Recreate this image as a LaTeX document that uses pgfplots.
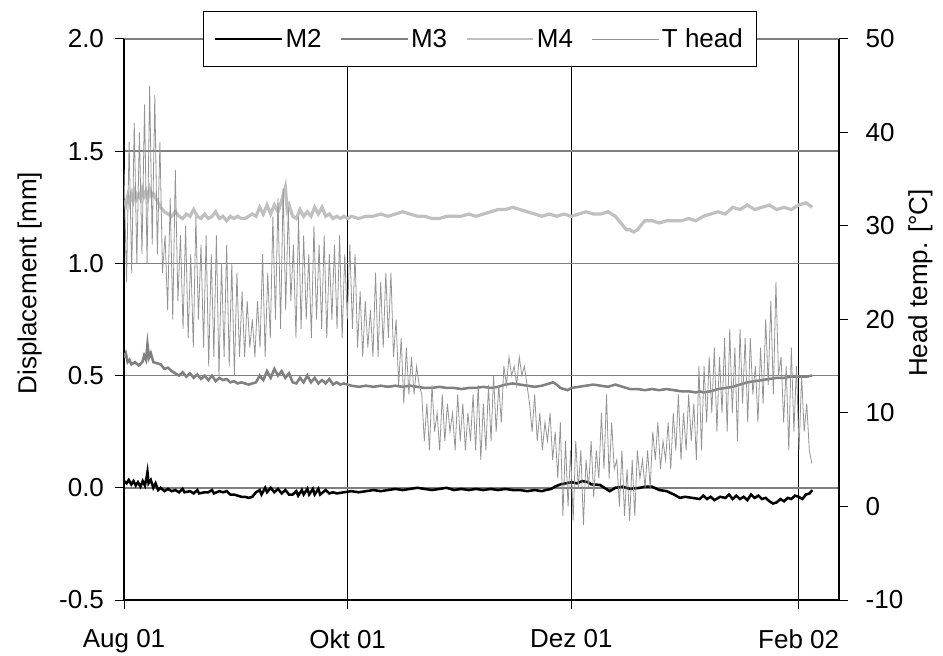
\documentclass[border=0pt]{standalone}
\usepackage{fontspec}
\setmainfont{Liberation Sans}
\usepackage{pgfplots}
\usepackage{pgfplotstable}
\pgfplotsset{compat=1.18}
\definecolor{mthree}{RGB}{128,128,128}
\definecolor{mfour}{RGB}{192,192,192}
\definecolor{thead}{RGB}{148,148,148}
\definecolor{gridgray}{RGB}{128,128,128}

% M2 displacement [mm], x = days since 1 Aug 2001
\pgfplotstableread{
day val
0 0.03
0.7 0.02
1.3 0.035
2 0.015
2.6 0.03
3.2 0.01
3.8 0.025
4.5 0.005
5.1 0.03
5.7 0.01
6.2 0.05
6.4 0.07
6.7 0.02
7.3 0.035
8 0.0
8.6 0.02
9.3 -0.01
10 0.0
11 -0.015
12 -0.005
13 -0.015
14 -0.01
15 -0.02
16 -0.005
16.5 -0.02
18 -0.015
19 -0.025
20 -0.01
20.5 -0.025
22 -0.02
23 -0.02
24 -0.01
24.5 -0.025
26 -0.015
27 -0.02
28 -0.015
29 -0.03
30 -0.03
31 -0.035
32 -0.04
33 -0.04
34 -0.045
35 -0.04
36 -0.02
37 -0.01
37.5 -0.03
38.5 0.0
39 -0.02
40 0.0
41 -0.02
42 -0.005
43 -0.025
44 -0.01
45 -0.03
46 -0.03
47 -0.015
47.5 -0.035
48.5 -0.01
49 -0.03
50 -0.005
50.5 -0.03
51.5 -0.005
52 -0.03
53 -0.005
53.5 -0.03
55 -0.01
56 -0.025
57 -0.02
58 -0.025
60 -0.02
62 -0.015
64 -0.02
66 -0.015
68 -0.01
70 -0.015
72 -0.01
74 -0.005
76 -0.01
78 -0.005
80 0.0
82 -0.005
84 -0.01
86 -0.005
88 0.0
90 -0.01
92 -0.005
94 -0.01
96 -0.005
98 -0.01
100 -0.005
102 -0.01
104 -0.005
106 -0.01
108 -0.01
110 -0.015
112 -0.01
114 -0.015
115 -0.01
116.5 -0.005
117.5 0.005
119 0.015
120.5 0.02
122 0.025
123.5 0.02
125 0.03
126.5 0.025
127.5 0.015
129.8 0.013
131 0.0
132.5 -0.015
134 0.0
136 0.005
138 -0.005
140.7 0.0
142 0.005
144 0.005
146 -0.01
148 -0.015
150 -0.03
151.6 -0.045
153 -0.04
155 -0.045
157 -0.05
158 -0.035
159 -0.05
160 -0.04
161 -0.055
162.6 -0.04
164 -0.045
165 -0.03
166 -0.05
167 -0.035
168 -0.05
169 -0.04
170 -0.055
171 -0.03
172 -0.045
173 -0.035
174 -0.05
175 -0.045
176 -0.06
177 -0.07
178 -0.065
179 -0.05
180 -0.06
181 -0.045
182 -0.05
183 -0.035
184 -0.04
185 -0.05
186 -0.03
187 -0.025
187.7 -0.01
}\mtwo

% M3 displacement [mm]
\pgfplotstableread{
day val
0 0.58
0.5 0.60
1 0.56
1.5 0.57
2 0.55
3 0.56
4 0.545
5 0.56
5.5 0.59
6 0.57
6.4 0.64
6.8 0.58
7.3 0.60
8 0.56
9 0.555
10 0.55
11 0.53
12 0.535
13 0.52
14 0.51
15 0.50
16 0.515
17 0.495
18 0.51
19 0.49
20 0.505
21 0.485
22 0.50
23 0.48
24 0.50
25 0.475
26 0.49
27 0.48
28 0.485
29 0.47
30 0.475
31 0.465
32 0.47
33 0.465
34 0.46
35 0.465
36 0.47
37 0.50
38 0.48
39 0.52
40 0.49
41 0.53
42 0.50
43 0.52
44 0.49
45 0.51
46 0.47
47 0.465
48 0.49
49 0.47
50 0.50
51 0.47
52 0.49
53 0.465
54 0.48
55 0.465
56 0.485
57 0.46
58 0.47
59 0.46
60 0.465
62 0.455
64 0.45
66 0.455
68 0.45
70 0.455
72 0.45
74 0.455
76 0.45
78 0.455
80 0.45
82 0.445
84 0.445
86 0.45
88 0.445
90 0.445
92 0.44
94 0.445
96 0.445
98 0.45
100 0.445
102 0.45
104 0.46
106 0.465
108 0.46
110 0.455
112 0.45
114 0.455
116 0.465
117 0.47
118 0.46
119 0.445
120 0.44
121 0.435
122 0.445
124 0.45
126 0.455
128 0.46
130 0.455
132 0.45
134 0.46
136 0.45
138 0.44
140 0.44
142 0.435
144 0.44
146 0.435
148 0.44
150 0.435
152 0.43
154 0.43
156 0.425
157 0.43
158 0.425
160 0.43
162 0.44
164 0.445
166 0.45
168 0.46
170 0.47
172 0.475
174 0.48
176 0.485
178 0.49
180 0.49
182 0.495
184 0.495
186 0.495
187.7 0.50
}\mthreetab

% M4 displacement [mm]
\pgfplotstableread{
day val
0 1.28
0.5 1.26
1 1.30
1.5 1.27
2 1.31
2.5 1.28
3 1.32
3.5 1.29
4 1.31
4.5 1.29
5 1.33
5.5 1.30
6 1.32
6.5 1.29
7 1.33
7.5 1.30
8 1.31
9 1.28
10 1.25
11 1.23
12 1.22
13 1.21
14 1.23
15 1.21
16 1.20
17 1.22
18 1.21
19 1.24
20 1.21
21 1.20
22 1.22
23 1.20
24 1.21
25 1.23
26 1.20
27 1.21
28 1.19
29 1.21
30 1.20
31 1.21
32 1.20
33 1.20
34 1.21
35 1.22
36 1.21
37 1.25
38 1.22
39 1.26
40 1.22
41 1.26
42 1.23
43 1.28
44 1.34
44.5 1.24
45 1.26
46 1.21
47 1.20
48 1.24
49 1.21
50 1.23
51 1.21
52 1.25
53 1.22
54 1.25
55 1.21
56 1.22
57 1.20
58 1.21
59 1.20
60 1.21
61 1.20
62 1.21
64 1.20
66 1.21
68 1.21
70 1.22
72 1.21
74 1.22
76 1.23
78 1.22
80 1.21
82 1.21
84 1.20
86 1.20
88 1.21
90 1.21
92 1.21
94 1.22
96 1.21
98 1.22
100 1.23
102 1.24
104 1.24
106 1.25
108 1.24
110 1.23
112 1.22
114 1.21
116 1.22
118 1.21
120 1.22
122 1.21
124 1.22
126 1.23
128 1.22
130 1.22
132 1.23
134 1.21
135 1.19
136 1.17
137 1.15
138 1.15
139 1.14
140 1.15
141 1.17
142 1.19
144 1.19
146 1.18
148 1.19
150 1.19
152 1.19
154 1.20
156 1.19
158 1.21
160 1.22
162 1.23
164 1.22
166 1.25
168 1.24
170 1.26
172 1.24
174 1.25
176 1.26
178 1.24
180 1.25
182 1.24
184 1.26
186 1.27
187.7 1.25
}\mfourtab

% T head [deg C], readings every 0.7 day (alternating maximum / minimum)
\pgfplotstableread[row sep=\\]{
val\\
36\\ 24\\ 39\\ 25\\ 41\\ 26\\ 40\\ 27\\ 43\\ 26\\ 45\\ 28\\ 44\\ 27\\ 39\\ 25\\
29\\ 21\\ 33\\ 20\\ 36\\ 22\\ 29\\ 19\\ 30\\ 18\\ 27\\ 17\\ 31\\ 20\\
28\\ 17\\ 29\\ 15\\ 27\\ 16\\ 29\\ 14\\ 26\\ 16\\ 28\\ 15\\ 26\\ 14\\ 25\\ 16\\
23\\ 16\\ 22\\ 17\\ 20\\ 16\\ 22\\ 17\\ 27\\ 16\\ 25\\ 18\\
31\\ 20\\ 33\\ 19\\ 34\\ 21\\ 32\\ 22\\ 28\\ 18\\ 31\\ 19\\
29\\ 20\\ 27\\ 18\\ 30\\ 20\\ 28\\ 19\\ 29\\ 18\\ 27\\ 20\\ 28\\ 19\\ 29\\ 18\\ 27\\ 20\\ 28\\ 19\\
27\\ 17\\ 23\\ 16\\ 22\\ 17\\ 21\\ 16\\
25\\ 16\\ 24\\ 17\\ 25\\ 18\\ 25\\ 16\\
20\\ 13\\ 18\\ 11\\ 17\\ 12\\
16\\ 12\\ 15\\ 13\\
12\\ 7\\ 11\\ 6\\ 13\\ 8\\ 10\\ 6\\ 12\\ 7\\ 11\\ 8\\ 10\\ 6\\ 12\\ 7\\ 11\\ 6\\ 10\\ 7\\
12\\ 6\\ 13\\ 5\\ 11\\ 6\\ 13\\ 7\\
14\\ 8\\ 13\\ 9\\
15\\ 13\\ 16\\ 14\\ 15\\ 13\\ 16\\ 14\\ 15\\ 13\\
11\\ 8\\ 12\\ 7\\ 10\\ 6\\ 9\\ 7\\
10\\ 5\\ 8\\ 3\\ 9\\ -1\\
7\\ 0\\ 6\\ -1.5\\ 7\\ 2\\
6\\ -2\\ 5\\ 2\\ 7\\ 1\\ 6\\ 3\\
10\\ 4\\ 12\\ 3\\ 9\\ 4\\
5\\ 0\\ 6\\ -1\\ 4\\ -1.5\\ 5\\ -1\\
6\\ 3\\ 5\\ 2\\ 6\\ 2\\
8\\ 5\\ 9\\ 4\\ 7\\ 5\\ 9\\ 4\\
10\\ 6\\ 12\\ 5\\ 10\\ 6\\ 12\\ 7\\ 11\\ 5\\ 15\\ 6\\
15\\ 9\\ 16\\ 10\\ 17\\ 8\\ 16\\ 10\\
18\\ 8\\ 19\\ 10\\ 17\\ 7\\ 19\\ 11\\ 18\\ 9\\ 18\\ 12\\
15\\ 9\\ 17\\ 11\\
20\\ 13\\ 22\\ 12\\ 24\\ 14\\
16\\ 9\\ 15\\ 6\\ 17\\ 8\\ 15\\ 6\\
14\\ 8\\ 11\\ 6\\
4.6\\
}\theadtab

\begin{document}
\begin{tikzpicture}
\pgfplotsset{
  common/.style={
    width=536.25pt, height=420.75pt, scale only axis,
    xmin=0, xmax=195,
    tick align=outside,
    major tick length=6.5pt,
    tick style={black, line width=0.75pt},
    every tick label/.append style={font=\fontsize{19.5}{23}\selectfont},
    label style={font=\fontsize{19.5}{23}\selectfont},
    axis line style={-, black, line width=1.1pt},
  },
}
\begin{axis}[common, name=ax,
  axis x line*=bottom, axis y line*=left,
  ymin=-0.5, ymax=2.0,
  ytick={-0.5,0,0.5,1,1.5,2},
  yticklabels={-0.5,0.0,0.5,1.0,1.5,2.0},
  xtick={0,61,122,184},
  xticklabels={Aug 01,Okt 01,Dez 01,Feb 02},
  xmajorgrids, ymajorgrids,
  x grid style={black, line width=0.75pt},
  y grid style={gridgray, line width=1.1pt},
  ylabel={Displacement [mm]},
  ylabel style={at={(rel axis cs:-0.132,0.565)}, anchor=center},
  xticklabel style={yshift=-12pt},
  yticklabel style={xshift=-5pt},
]
\addplot[mfour, line width=2.4pt] table[x=day,y=val]{\mfourtab};
\addplot[mthree, line width=1.9pt] table[x=day,y=val]{\mthreetab};
\addplot[black, line width=1.9pt] table[x=day,y=val]{\mtwo};
\end{axis}
\begin{axis}[common,
  axis x line=none, axis y line*=right,
  ymin=-10, ymax=50,
  ytick={-10,0,10,20,30,40,50},
  yticklabels={-10,0,10,20,30,40,50},
  yticklabel style={xshift=10pt},
  ylabel={Head temp. [°C]},
  ylabel style={at={(rel axis cs:1.114,0.565)}, anchor=center},
  legend columns=4,
  legend style={at={(0.498,1)}, anchor=center, draw=black, fill=white,
    line width=0.75pt, inner xsep=8pt, inner ysep=11pt,
    font=\fontsize{19.5}{23}\selectfont,
    nodes={text height=14pt, text depth=1pt},
    /tikz/every even column/.append style={column sep=12pt}},
  legend image code/.code={\draw[#1] (0pt,0pt) -- (50pt,0pt);},
]
\addlegendimage{black, line width=1.2pt}
\addlegendentry{M2}
\addlegendimage{mthree, line width=1pt}
\addlegendentry{M3}
\addlegendimage{mfour, line width=1.4pt}
\addlegendentry{M4}
\addplot[thead, line width=0.6pt] table[x expr=\coordindex*0.7, y index=0]{\theadtab};
\addlegendentry{T head}
\end{axis}
\pgfresetboundingbox
\path[use as bounding box] ([shift={(-93pt,-41.25pt)}]ax.south west) rectangle ([shift={(78pt,29.25pt)}]ax.north east);
\end{tikzpicture}
\end{document}
